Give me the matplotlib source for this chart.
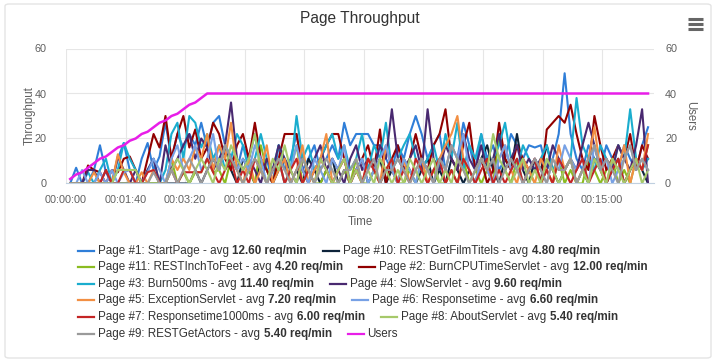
import numpy as np
import matplotlib.pyplot as plt
from matplotlib.lines import Line2D
from matplotlib.patches import FancyBboxPatch
from matplotlib.ticker import FuncFormatter

plt.rcParams['font.family'] = ['Liberation Sans', 'DejaVu Sans']

# sample times in seconds (one sample every 10 s)
times = np.arange(98) * 10 + 7

users = [2, 4, 5, 7, 9, 11, 12, 14, 16, 17,
         19, 20, 22, 23, 25, 27, 28, 30, 31, 33,
         35, 36, 38, 40] + [40] * 74

start_page = [0, 7, 0, 0, 6, 17, 5, 0, 11, 18,
              6, 0, 11, 18, 6, 12, 27, 11, 22, 16,
              22, 17, 27, 16, 27, 30, 17, 12, 6, 17,
              11, 22, 6, 11, 0, 17, 6, 11, 22, 6,
              11, 17, 6, 11, 17, 11, 27, 17, 22, 22,
              22, 17, 17, 11, 6, 17, 11, 22, 30, 22,
              11, 17, 22, 6, 17, 11, 27, 17, 6, 22,
              11, 17, 6, 11, 22, 17, 11, 17, 16, 17,
              6, 11, 22, 49, 22, 11, 6, 17, 11, 6,
              17, 11, 6, 17, 11, 6, 17, 25]

film_titels = [0, 0, 0, 0, 0, 0, 0, 0, 0, 0,
               0, 0, 0, 0, 0, 0, 0, 0, 0, 0,
               0, 6, 0, 6, 11, 6, 17, 6, 0, 11,
               6, 0, 11, 6, 0, 6, 11, 0, 6, 0,
               11, 6, 0, 6, 11, 0, 6, 0, 6, 11,
               0, 6, 11, 0, 6, 0, 11, 6, 0, 6,
               11, 0, 6, 0, 11, 6, 0, 6, 0, 11,
               17, 6, 0, 11, 6, 22, 6, 0, 11, 6,
               17, 6, 0, 6, 11, 0, 6, 0, 11, 6,
               0, 6, 11, 0, 6, 11, 6, 0]

inch_to_feet = [0, 0, 0, 0, 0, 0, 0, 0, 0, 0,
                0, 0, 0, 0, 0, 0, 0, 11, 0, 5,
                0, 5, 5, 11, 5, 6, 0, 11, 6, 0,
                6, 0, 17, 6, 0, 11, 0, 6, 17, 0,
                6, 0, 0, 6, 0, 0, 6, 0, 11, 0,
                0, 6, 0, 6, 11, 0, 0, 6, 0, 11,
                0, 6, 0, 0, 6, 0, 11, 0, 6, 0,
                6, 0, 22, 6, 0, 11, 0, 6, 0, 0,
                6, 0, 11, 0, 6, 0, 0, 11, 6, 0,
                6, 11, 0, 6, 0, 11, 6, 17]

burn_cpu = [0, 0, 0, 8, 6, 5, 0, 6, 5, 11,
            12, 6, 0, 11, 22, 16, 30, 11, 22, 30,
            16, 24, 11, 16, 27, 22, 11, 6, 17, 22,
            11, 27, 11, 6, 0, 11, 22, 22, 22, 6,
            0, 6, 11, 17, 22, 22, 11, 0, 6, 11,
            17, 6, 24, 0, 11, 17, 6, 11, 22, 11,
            6, 17, 22, 33, 11, 6, 17, 27, 6, 11,
            0, 6, 27, 11, 6, 17, 11, 6, 11, 0,
            24, 27, 30, 27, 35, 22, 11, 6, 30, 17,
            6, 11, 17, 11, 22, 6, 17, 11]

burn_500ms = [0, 0, 0, 5, 0, 6, 11, 0, 6, 18,
              11, 6, 0, 6, 11, 0, 6, 22, 27, 11,
              30, 27, 16, 22, 11, 17, 6, 11, 22, 17,
              6, 11, 22, 11, 6, 17, 11, 6, 30, 11,
              17, 6, 11, 17, 22, 11, 17, 6, 11, 22,
              6, 17, 11, 27, 6, 11, 17, 22, 11, 6,
              11, 17, 6, 22, 11, 27, 6, 17, 11, 22,
              6, 11, 17, 27, 11, 6, 17, 11, 6, 11,
              17, 6, 11, 6, 11, 38, 17, 11, 6, 17,
              11, 6, 17, 11, 33, 11, 6, 11]

slow_servlet = [0, 0, 0, 6, 6, 0, 6, 0, 12, 6,
                0, 6, 0, 6, 11, 0, 17, 6, 11, 17,
                22, 11, 20, 16, 6, 11, 17, 36, 11, 6,
                11, 6, 0, 11, 6, 17, 11, 6, 0, 11,
                6, 11, 17, 6, 11, 6, 0, 11, 17, 6,
                11, 6, 17, 11, 33, 11, 6, 11, 17, 6,
                33, 11, 6, 17, 11, 6, 22, 11, 6, 17,
                6, 11, 22, 6, 11, 17, 6, 11, 6, 11,
                6, 17, 11, 6, 11, 6, 17, 27, 17, 6,
                11, 6, 17, 11, 6, 17, 33, 0]

exception_servlet = [0, 0, 0, 0, 5, 0, 0, 0, 13, 5,
                     0, 0, 5, 0, 6, 0, 0, 11, 6, 11,
                     6, 16, 11, 22, 6, 17, 11, 27, 6, 0,
                     11, 0, 6, 17, 0, 6, 11, 0, 6, 17,
                     0, 6, 11, 22, 0, 6, 11, 0, 6, 0,
                     11, 6, 0, 17, 6, 0, 11, 0, 6, 11,
                     0, 6, 11, 17, 22, 30, 11, 6, 0, 11,
                     6, 0, 11, 17, 6, 0, 11, 6, 0, 11,
                     6, 0, 17, 6, 11, 0, 6, 11, 25, 6,
                     0, 11, 6, 17, 0, 11, 6, 22]

responsetime = [0, 0, 6, 0, 0, 5, 0, 6, 0, 5,
                6, 0, 0, 5, 11, 6, 0, 11, 17, 6,
                11, 17, 6, 11, 22, 6, 17, 11, 6, 11,
                6, 17, 11, 0, 6, 11, 0, 6, 17, 6,
                0, 11, 6, 0, 11, 6, 17, 0, 6, 11,
                0, 6, 11, 17, 6, 0, 11, 6, 0, 11,
                6, 0, 11, 6, 17, 11, 22, 6, 0, 11,
                6, 0, 11, 17, 6, 11, 0, 6, 11, 6,
                0, 11, 6, 17, 11, 6, 11, 0, 17, 6,
                11, 0, 6, 11, 17, 6, 11, 6]

responsetime_1000 = [0, 0, 0, 0, 0, 0, 6, 0, 0, 6,
                     6, 0, 0, 5, 6, 0, 0, 6, 0, 5,
                     5, 5, 5, 11, 5, 0, 6, 11, 0, 6,
                     0, 11, 6, 0, 6, 11, 0, 6, 11, 0,
                     6, 0, 11, 6, 0, 6, 11, 0, 6, 0,
                     11, 6, 0, 6, 11, 0, 6, 0, 11, 6,
                     0, 6, 11, 0, 6, 0, 11, 6, 0, 6,
                     11, 0, 6, 0, 6, 11, 0, 6, 11, 0,
                     6, 0, 11, 6, 0, 6, 11, 0, 6, 11,
                     0, 6, 11, 0, 6, 11, 6, 17]

about_servlet = [0, 0, 0, 0, 0, 0, 0, 0, 6, 6,
                 6, 6, 0, 0, 0, 0, 0, 6, 11, 6,
                 0, 6, 11, 6, 0, 11, 6, 17, 11, 6,
                 11, 22, 6, 0, 11, 6, 17, 6, 0, 11,
                 6, 0, 11, 6, 0, 6, 11, 0, 6, 0,
                 6, 0, 11, 6, 0, 6, 0, 11, 6, 0,
                 6, 11, 0, 6, 0, 11, 6, 0, 6, 11,
                 6, 22, 11, 6, 0, 6, 11, 0, 6, 0,
                 11, 6, 0, 6, 11, 0, 6, 0, 11, 6,
                 0, 11, 6, 0, 6, 11, 0, 6]

get_actors = [0, 0, 0, 0, 0, 0, 0, 0, 0, 0,
              0, 0, 0, 0, 5, 0, 0, 6, 0, 6,
              11, 6, 0, 6, 11, 6, 17, 11, 6, 0,
              6, 11, 6, 0, 6, 11, 6, 0, 6, 11,
              6, 0, 6, 11, 6, 0, 6, 6, 11, 0,
              6, 11, 0, 6, 6, 11, 6, 0, 6, 11,
              6, 0, 11, 6, 17, 11, 6, 0, 6, 11,
              6, 11, 0, 6, 11, 6, 0, 6, 11, 6,
              0, 11, 6, 6, 11, 0, 6, 11, 17, 6,
              11, 6, 0, 11, 17, 6, 11, 6]

names = ['Page #1: StartPage', 'Page #10: RESTGetFilmTitels', 'Page #11: RESTInchToFeet',
         'Page #2: BurnCPUTimeServlet', 'Page #3: Burn500ms', 'Page #4: SlowServlet',
         'Page #5: ExceptionServlet', 'Page #6: Responsetime', 'Page #7: Responsetime1000ms',
         'Page #8: AboutServlet', 'Page #9: RESTGetActors']
averages = ['12.60', '4.80', '4.20', '12.00', '11.40', '9.60', '7.20', '6.60', '6.00', '5.40', '5.40']
colors = ['#2f7ed8', '#0d233a', '#8bbc21', '#910000', '#1aadce', '#492970',
          '#f28f43', '#77a1e5', '#c42525', '#a6c96a', '#9a9a9a']
series = [start_page, film_titels, inch_to_feet, burn_cpu, burn_500ms, slow_servlet,
          exception_servlet, responsetime, responsetime_1000, about_servlet, get_actors]
users_color = '#e81ee8'

W, H = 716, 362
fig = plt.figure(figsize=(W / 100, H / 100), dpi=100)


def fx(px):
    return px / W


def fy(py):
    return 1 - py / H


# outer frame
fig.add_artist(FancyBboxPatch((fx(5), fy(358)), fx(706), 354 / H,
                              boxstyle='round,pad=0,rounding_size=0.006',
                              transform=fig.transFigure, fc='none', ec='#e4e4e4', lw=1,
                              zorder=-1))

ax = fig.add_axes([fx(66), fy(183.5), fx(654) - fx(66), fy(48.5) - fy(183.5)])
for vals, c in zip(series, colors):
    ax.plot(times, vals, color=c, lw=1.5, solid_joinstyle='round')

ax.set_xlim(0, 987)
ax.set_ylim(0, 60)
ax.set_yticks([0, 20, 40, 60])
ax.set_xticks(np.arange(0, 1000, 100))
ax.xaxis.set_major_formatter(FuncFormatter(lambda s, p: f"00:{int(s) // 60:02d}:{int(s) % 60:02d}"))
ax.grid(True, color='#e6e6e6', lw=0.8)
ax.set_axisbelow(True)
for side in ['top', 'right', 'left']:
    ax.spines[side].set_visible(False)
ax.spines['bottom'].set_color('#c0d0e0')
ax.tick_params(axis='both', length=0, labelsize=7.8, colors='#606060')
ax.tick_params(axis='x', pad=8)
ax.tick_params(axis='y', pad=14)
ax.set_xlabel('Time', fontsize=8.3, color='#606060', labelpad=8)
ax.set_ylabel('Throughput', fontsize=8.3, color='#606060', labelpad=-0.5)

ax2 = ax.twinx()
ax2.plot(times, users, color=users_color, lw=1.8)
ax2.set_ylim(0, 60)
ax2.set_yticks([0, 20, 40, 60])
for side in ['top', 'right', 'left', 'bottom']:
    ax2.spines[side].set_visible(False)
ax2.tick_params(axis='y', length=0, labelsize=7.8, colors='#606060', pad=8)
ax2.set_ylabel('Users', fontsize=8.3, color='#606060', rotation=270, labelpad=14)

fig.text(fx(360), fy(19), 'Page Throughput', fontsize=11.2, color='#333333', ha='center', va='center')

# menu icon
for yy in [19, 24, 29]:
    fig.add_artist(Line2D([fx(688), fx(703)], [fy(yy), fy(yy)], color='#666666', lw=2.2,
                          solid_capstyle='butt'))

# legend, two items per row
renderer = fig.canvas.get_renderer()
row_y = [251, 267, 284, 300, 317, 334]
items = [(n, a, c) for n, a, c in zip(names, averages, colors)] + [('Users', None, users_color)]
x = 78
for k, (name, avg, c) in enumerate(items):
    if k % 2 == 0:
        x = 78
    y = row_y[k // 2]
    fig.add_artist(Line2D([fx(x), fx(x + 16)], [fy(y), fy(y)], color=c, lw=1.6))
    label = name + ' - avg' if avg else name
    t1 = fig.text(fx(x + 20), fy(y), label, fontsize=8.4, color='#333333', va='center')
    end = t1.get_window_extent(renderer).x1
    if avg:
        t2 = fig.text(fx(end + 3.5), fy(y), avg + ' req/min', fontsize=8.4, color='#333333',
                      va='center', fontweight='bold')
        end = t2.get_window_extent(renderer).x1
    x = end + 16

fig.savefig('out.png', dpi=100)
